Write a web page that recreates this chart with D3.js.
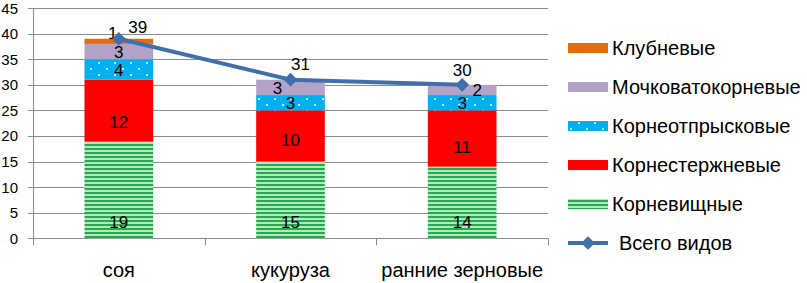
<!DOCTYPE html>
<html>
<head>
<meta charset="utf-8">
<script src="https://cdn.jsdelivr.net/npm/d3@7"></script>
<style>
  body { margin: 0; background: #fff; }
  text { font-family: "Liberation Sans", Arial, sans-serif; fill: #000; }
</style>
</head>
<body>
<script>
// data
var categories = ["соя", "кукуруза", "ранние зерновые"];
var seriesNames = ["Корневищные", "Корнестержневые", "Корнеотпрысковые", "Мочковатокорневые", "Клубневые"];
var rhizome = [19, 15, 14];
var taproot = [12, 10, 11];
var rootSucker = [4, 3, 3];
var fibrous = [3, 3, 2];
var tuber = [1, 0, 0];
var totals = [39, 31, 30];
var yTicks = [0, 5, 10, 15, 20, 25, 30, 35, 40, 45];
var lineName = "Всего видов";

var seriesValues = [rhizome, taproot, rootSucker, fibrous, tuber];
var fills = ["url(#stripes)", "#ff0000", "url(#dots)", "#b3a2c7", "#e46c0a"];
var lineColor = "#4070aa";

// label nudges (Excel moved some labels by hand)
var segNudge = {"0-4": [-6, -8], "1-3": [-13, 0], "2-3": [15, 0],
  "0-1": [0, 11], "1-1": [0, 4], "2-1": [0, 8]};
var totalNudge = [[19, -12], [10, -16], [0, -15]];

var W = 807, H = 283;
var svg = d3.select("body").append("svg").attr("width", W).attr("height", H);

var defs = svg.append("defs");
var st = defs.append("pattern").attr("id", "stripes").attr("patternUnits", "userSpaceOnUse")
  .attr("width", 8).attr("height", 4);
st.append("rect").attr("width", 8).attr("height", 4).attr("fill", "#b8e6c0");
st.append("rect").attr("width", 8).attr("height", 2).attr("fill", "#22ac4e");
var dp = defs.append("pattern").attr("id", "dots").attr("patternUnits", "userSpaceOnUse")
  .attr("width", 16).attr("height", 12);
dp.append("rect").attr("width", 16).attr("height", 12).attr("fill", "#00b0f0");
dp.append("circle").attr("cx", 3).attr("cy", 3).attr("r", 1).attr("fill", "#fff");
dp.append("circle").attr("cx", 11).attr("cy", 9).attr("r", 1).attr("fill", "#fff");

var x = d3.scaleBand().domain(categories).range([33, 548]).paddingInner(0.6).paddingOuter(0.3);
var y = d3.scaleLinear().domain([0, 45]).range([238.3, 8.1]);

// grid lines
svg.append("g").selectAll("line").data(yTicks).enter().append("line")
  .attr("x1", 28).attr("x2", 548)
  .attr("y1", d => Math.round(y(d)) + 0.5).attr("y2", d => Math.round(y(d)) + 0.5)
  .attr("stroke", "#8c8c8c").attr("stroke-width", 1);

// y axis
svg.append("line").attr("x1", 33.5).attr("x2", 33.5).attr("y1", y(45)).attr("y2", y(0))
  .attr("stroke", "#8c8c8c");
svg.append("g").selectAll("text").data(yTicks).enter().append("text")
  .attr("x", 18).attr("y", d => y(d)).attr("dy", "0.36em")
  .attr("text-anchor", "end").attr("font-size", 15).text(d => d);

// category ticks
var step = x.step();
var bounds = d3.range(categories.length + 1).map(i => 33 + i * step);
svg.append("g").selectAll("line").data(bounds).enter().append("line")
  .attr("x1", d => Math.round(d) + 0.5).attr("x2", d => Math.round(d) + 0.5)
  .attr("y1", y(0)).attr("y2", y(0) + 7).attr("stroke", "#8c8c8c");

svg.append("g").selectAll("text").data(categories).enter().append("text")
  .attr("x", d => x(d) + x.bandwidth() / 2).attr("y", 277)
  .attr("text-anchor", "middle").attr("font-size", 20).text(d => d);

// stacked bars
var rows = categories.map((c, i) => {
  var r = {cat: c};
  seriesNames.forEach((s, j) => r[s] = seriesValues[j][i]);
  return r;
});
var stack = d3.stack().keys(seriesNames)(rows);

stack.forEach((layer, j) => {
  var g = svg.append("g");
  g.selectAll("rect").data(layer).enter().append("rect")
    .attr("x", d => x(d.data.cat)).attr("width", x.bandwidth())
    .attr("y", d => y(d[1])).attr("height", d => y(d[0]) - y(d[1]))
    .attr("fill", fills[j]);
});
stack.forEach((layer, j) => {
  svg.append("g").selectAll("text").data(layer.filter(d => d[1] - d[0] > 0)).enter().append("text")
    .attr("x", d => {
      var n = segNudge[categories.indexOf(d.data.cat) + "-" + j] || [0, 0];
      return x(d.data.cat) + x.bandwidth() / 2 + n[0];
    })
    .attr("y", d => {
      // first series labels sit near the bar base
      if (j == 0) return y(d[0]) - 16;
      var n = segNudge[categories.indexOf(d.data.cat) + "-" + j] || [0, 0];
      return y((d[0] + d[1]) / 2) + n[1];
    })
    .attr("dy", "0.36em").attr("text-anchor", "middle").attr("font-size", 17)
    .text(d => d[1] - d[0]);
});

// total line
var line = d3.line().x((d, i) => x(categories[i]) + x.bandwidth() / 2).y(d => y(d));
svg.append("path").datum(totals).attr("d", line)
  .attr("fill", "none").attr("stroke", lineColor).attr("stroke-width", 4);
var diamond = d3.symbol().type(d3.symbolDiamond2).size(120);
svg.append("g").selectAll("path").data(totals).enter().append("path")
  .attr("d", diamond)
  .attr("transform", (d, i) => `translate(${x(categories[i]) + x.bandwidth() / 2},${y(d)})`)
  .attr("fill", lineColor);
svg.append("g").selectAll("text").data(totals).enter().append("text")
  .attr("x", (d, i) => x(categories[i]) + x.bandwidth() / 2 + totalNudge[i][0])
  .attr("y", (d, i) => y(d) + totalNudge[i][1])
  .attr("dy", "0.36em").attr("text-anchor", "middle").attr("font-size", 17).text(d => d);

// legend
var legendItems = seriesNames.map((s, j) => ({name: s, fill: fills[j]})).reverse();
var leg = svg.append("g");
legendItems.forEach((d, i) => {
  var ly = 48 + i * 39;
  leg.append("rect").attr("x", 568).attr("y", ly - 5).attr("width", 40).attr("height", 10).attr("fill", d.fill);
  leg.append("text").attr("x", 612).attr("y", ly).attr("dy", "0.36em").attr("font-size", 20).text(d.name);
});
var ly = 48 + 5 * 39;
leg.append("line").attr("x1", 568).attr("x2", 608).attr("y1", ly).attr("y2", ly)
  .attr("stroke", lineColor).attr("stroke-width", 4);
leg.append("path").attr("d", diamond).attr("transform", `translate(588,${ly})`).attr("fill", lineColor);
leg.append("text").attr("x", 619).attr("y", ly).attr("dy", "0.36em").attr("font-size", 20).text(lineName);
</script>
</body>
</html>
